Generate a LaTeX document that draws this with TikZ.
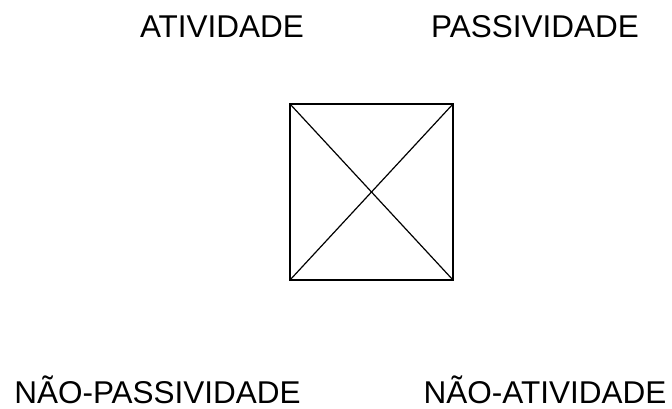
\documentclass[tikz,border=0pt]{standalone}
\usepackage{fontspec}
\setmainfont{Liberation Sans}
\begin{document}
\begin{tikzpicture}[x=1pt,y=1pt,
  lbl/.style={anchor=base,inner sep=0pt,text depth=0pt,font=\fontsize{31.5}{36}\selectfont},
  sqbox/.style={draw=black,line width=2pt,minimum width=163pt,minimum height=176pt,inner sep=0pt,outer sep=0pt},
  diag/.style={draw=black,line width=1.2pt}]
\useasboundingbox (0,0) rectangle (672,409);
\node[lbl] (ativ) at (222,{409-38}) {ATIVIDADE};
\node[lbl] (pass) at (535,{409-38}) {PASSIVIDADE};
\node[lbl] (npass) at (157.5,{409-404}) {NÃO-PASSIVIDADE};
\node[lbl] (nativ) at (545,{409-404}) {NÃO-ATIVIDADE};
\node[sqbox] (sq) at (371.5,{409-192}) {};
\draw[diag] (sq.north west) -- (sq.south east);
\draw[diag] (sq.north east) -- (sq.south west);
\end{tikzpicture}
\end{document}
